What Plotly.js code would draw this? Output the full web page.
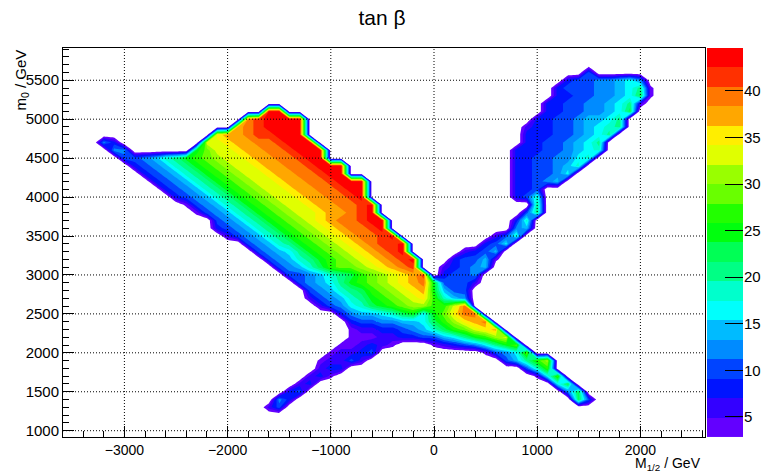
<!DOCTYPE html>
<html>
<head>
<meta charset="utf-8">
<script src="https://cdn.plot.ly/plotly-3.0.1.min.js"></script>
<style>html,body{margin:0;padding:0;background:#fff;}#chart{width:765px;height:472px;}</style>
</head>
<body>
<div id="chart"></div>
<script>
// ---- grid of the histogram (GeV) ----
const xGrid = [-3400,-3300,-3200,-3100,-3000,-2900,-2800,-2700,-2600,-2500,-2400,-2300,-2200,-2100,-2000,-1900,-1800,-1700,-1600,-1500,-1400,-1300,-1200,-1100,-1000,-900,-800,-700,-600,-500,-400,-300,-200,-100,0,100,200,300,400,500,600,700,800,900,1000,1100,1200,1300,1400,1500,1600,1700,1800,1900,2000,2100,2200];
const yGrid = [1200,1300,1400,1500,1600,1700,1800,1900,2000,2100,2200,2300,2400,2500,2600,2700,2800,2900,3000,3100,3200,3300,3400,3500,3600,3700,3800,3900,4000,4100,4200,4300,4400,4500,4600,4700,4800,4900,5000,5100,5200,5300,5400,5500,5600,5700];

// ---- colour levels (tan beta) ----
const levelStart = 2.85;
const levelSize = 2.0875;
const levelCount = 20;
// value read for each band letter 0..9,A..J (band centre)
const bandCodes = "0123456789ABCDEFGHIJ";
const bandValue = [3.89,5.98,8.07,10.16,12.24,14.33,16.42,18.51,20.59,22.68,24.77,26.86,28.94,31.03,33.12,35.21,37.29,39.38,41.47,43.56];
const bandColors = ['rgb(99,0,255)','rgb(51,0,255)','rgb(0,20,255)','rgb(0,68,255)','rgb(0,139,255)','rgb(0,187,255)','rgb(0,255,252)','rgb(0,255,204)','rgb(0,255,133)','rgb(0,255,85)','rgb(0,255,14)','rgb(34,255,0)','rgb(105,255,0)','rgb(153,255,0)','rgb(224,255,0)','rgb(255,238,0)','rgb(255,167,0)','rgb(255,119,0)','rgb(255,48,0)','rgb(255,0,0)'];

// ---- tan beta: [m0, first M1/2, band letters every 100 GeV] ----
const upperRightLobe = [
  [5600, 1500, "3"],
  [5500, 1300, "23344564"],
  [5400, 1200, "2333445680"],
  [5300, 1200, "2233445690"],
  [5200, 1100, "2233445681"],
  [5100, 1100, "223344569"],
  [5000, 1000, "223345568"],
  [4900, 900, "1223345678"],
  [4800, 900, "222334568"],
  [4700, 900, "22334568"],
  [4600, 800, "222334567"],
  [4500, 800, "22334467"],
  [4400, 800, "2233457"],
  [4300, 800, "223346"],
  [4200, 800, "22345"],
  [4100, 800, "223"],
  [4000, 800, "237"],
  [3900, 1000, "8"],
  [3800, 900, "38"],
  [3700, 800, "27"],
  [3600, 800, "45"],
  [3500, 600, "137"],
  [3400, 500, "236"],
  [3300, 300, "1235"],
  [3200, 200, "23350"],
  [3100, 100, "12345"],
  [3000, 100, "2334"]
];
const upperLeftLobe = [
  [5100, -1600, "JJ"],
  [5000, -1800, "HIJJJJ"],
  [4900, -1900, "GHIJJJJ"],
  [4800, -2100, "FGGHIIJJJ"],
  [4700, -3200, "42"],
  [4700, -2200, "EEFGGHHIJJJ"],
  [4600, -3100, "44"],
  [4600, -2300, "ACEEFGGHHIJJJ"],
  [4500, -3000, "334578ABCDEEFGGHHIJJ"],
  [4400, -2900, "234578ABCDEEFGGHHIJJJ"],
  [4300, -2800, "234578ABCDEEFGGHHIJJ"],
  [4200, -2700, "234578ABCDEEFGGHHIJJJ"],
  [4100, -2600, "234578ABCDEEFGGHHIJJ"],
  [4000, -2500, "234578ABCDEEFGGHHIJ"],
  [3900, -2400, "034578ABCDEEFGGHHIJ"],
  [3800, -2300, "034578ABCDEEFGGHIJ"],
  [3700, -2100, "34578ABCDEFGHHIJJ"],
  [3600, -2100, "234578ABCDEFGHHIJ"],
  [3500, -2000, "134578ABCDEFGHHIJ"],
  [3400, -1800, "34578ABCDEFGHIIJ"],
  [3300, -1700, "34568ABCDEFGHIJ"],
  [3200, -1600, "34578ABCDEFGHIJ"],
  [3100, -1500, "34579BCCDEFGHI"],
  [3000, -1400, "3345789BCDEFGI"]
];
const centreAndLowerArms = [
  [2900, -1300, "34568ABCDEFGHA3331"],
  [2800, -1200, "345789BCDEFGA533"],
  [2700, -1200, "134578ABCDEFB754"],
  [2600, -1100, "134679ABCDDBBEH"],
  [2500, -900, "2455679A6ACFHH"],
  [2400, -800, "233445569BDFGH"],
  [2300, -800, "0112234579BCEFG"],
  [2200, -800, "000112233568ABDE"],
  [2100, -900, "001210"],
  [2100, 0, "0123468AC"],
  [2000, -1000, "01123"],
  [2000, 500, "0346C"],
  [1900, -1100, "01131"],
  [1900, 700, "358BD"],
  [1800, -1100, "122"],
  [1800, 900, "37B"],
  [1700, -1200, "120"],
  [1700, 1000, "06B"],
  [1600, -1300, "12"],
  [1600, 1200, "69"],
  [1500, -1400, "23"],
  [1500, 1300, "49"],
  [1400, -1500, "42"],
  [1400, 1400, "93"],
  [1300, -1600, "13"]
];

// ---- axis ticks ----
const xTicks = [-3000,-2000,-1000,0,1000,2000];
const yTicks = [1000,1500,2000,2500,3000,3500,4000,4500,5000,5500];
const zTicks = [5,10,15,20,25,30,35,40];

// build z matrix (empty bins = 0)
const z = yGrid.map(() => xGrid.map(() => 0));
[upperRightLobe, upperLeftLobe, centreAndLowerArms].forEach(list => list.forEach(([yv, x0, s]) => {
  const r = yGrid.indexOf(yv), c0 = xGrid.indexOf(x0);
  for (let i = 0; i < s.length; i++) z[r][c0 + i] = bandValue[bandCodes.indexOf(s[i])];
}));

// contour colour scale: below first level white, then one colour per band
const contourScale = [[0, 'rgb(255,255,255)']];
bandColors.forEach((c, k) => contourScale.push([(k + 1) / levelCount, c]));
// stepped scale for the palette strip
const stripScale = [];
bandColors.forEach((c, k) => { stripScale.push([k / levelCount, c]); stripScale.push([(k + 1) / levelCount, c]); });

const FONT = 'Liberation Sans, Arial, Helvetica, sans-serif';

const traces = [
  {
    type: 'contour', x: xGrid, y: yGrid, z: z,
    autocontour: false,
    contours: { start: levelStart, end: levelStart + (levelCount - 1) * levelSize, size: levelSize, coloring: 'fill', showlines: false },
    line: { width: 0, smoothing: 0 },
    colorscale: contourScale, showscale: false, hoverinfo: 'skip'
  },
  {
    type: 'heatmap', x: [0], y: bandValue, z: bandValue.map((v, k) => [k]),
    xaxis: 'x2', yaxis: 'y2', colorscale: stripScale, zmin: -0.5, zmax: levelCount - 0.5,
    showscale: false, hoverinfo: 'skip'
  }
];

const plotW = 680, plotLeft = 63;
const xDomEnd = (705 - plotLeft) / plotW;
const shapes = [];
xTicks.forEach(v => shapes.push({type: 'line', layer: 'above', xref: 'x', yref: 'paper', x0: v, x1: v, y0: 0, y1: 1, line: {color: 'black', width: 1, dash: '1px,2px'}}));
yTicks.forEach(v => shapes.push({type: 'line', layer: 'above', xref: 'paper', yref: 'y', x0: 0, x1: xDomEnd, y0: v, y1: v, line: {color: 'black', width: 1, dash: '1px,2px'}}));

const layout = {
  width: 765, height: 472,
  margin: {l: plotLeft, r: 22, t: 48, b: 35, pad: 0},
  paper_bgcolor: 'white', plot_bgcolor: 'white',
  font: {family: FONT, color: 'black', size: 15},
  showlegend: false,
  title: {text: 'tan β', x: 382 / 765, xanchor: 'center', y: 1 - 18 / 472, yanchor: 'middle', yref: 'container', font: {family: FONT, size: 21, color: 'black'}},
  xaxis: {
    domain: [0, xDomEnd], range: [-3595, 2626], tickvals: xTicks, ticks: 'inside', ticklen: 11, tickcolor: 'black', tickwidth: 1,
    minor: {dtick: 200, tick0: 0, ticks: 'inside', ticklen: 6, tickcolor: 'black', showgrid: false},
    showline: true, linecolor: 'black', linewidth: 1, mirror: true, showgrid: false, zeroline: false,
    tickfont: {family: FONT, size: 14}, fixedrange: true
  },
  yaxis: {
    domain: [0, 1], range: [919, 5914], tickvals: yTicks, ticks: 'inside', ticklen: 11, tickcolor: 'black', tickwidth: 1,
    minor: {dtick: 100, tick0: 0, ticks: 'inside', ticklen: 6, tickcolor: 'black', showgrid: false},
    showline: true, linecolor: 'black', linewidth: 1, mirror: true, showgrid: false, zeroline: false,
    tickfont: {family: FONT, size: 15}, fixedrange: true
  },
  xaxis2: {domain: [(707 - plotLeft) / plotW, 1], range: [-0.5, 0.5], visible: false, anchor: 'y2', fixedrange: true},
  yaxis2: {
    domain: [0, 1], anchor: 'x2', side: 'right', range: [levelStart, levelStart + levelCount * levelSize],
    tickvals: zTicks, ticks: 'inside', ticklen: 18, tickcolor: 'black', showline: false, showgrid: false, zeroline: false,
    tickfont: {family: FONT, size: 15}, fixedrange: true
  },
  shapes: shapes,
  annotations: [
    {text: 'm<sub>0</sub> / GeV', xref: 'paper', yref: 'paper', x: (21 - plotLeft) / plotW, y: 1, xanchor: 'center', yanchor: 'top', textangle: -90, showarrow: false, font: {family: FONT, size: 15}},
    {text: 'M<sub>1/2</sub> / GeV', xref: 'paper', yref: 'paper', x: (703 - plotLeft) / plotW, y: (437 - 464) / 389, xanchor: 'right', yanchor: 'middle', showarrow: false, font: {family: FONT, size: 14}}
  ]
};

Plotly.newPlot('chart', traces, layout, {staticPlot: true, displayModeBar: false});
</script>
</body>
</html>
